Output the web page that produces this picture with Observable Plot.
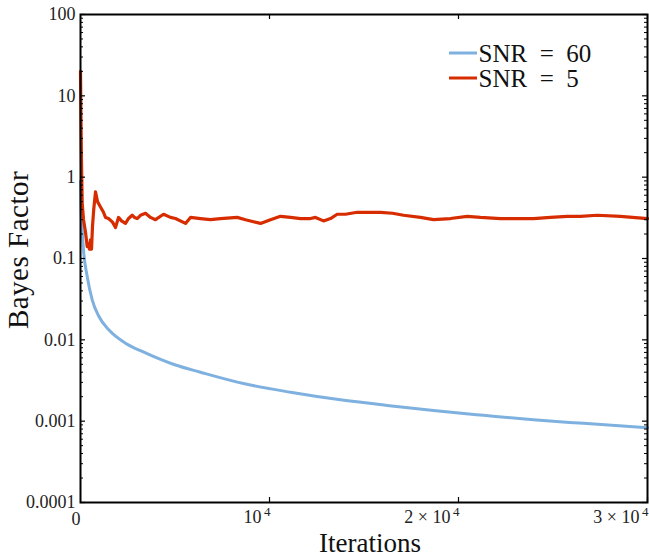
<!DOCTYPE html>
<html><head><meta charset="utf-8">
<script src="https://cdn.jsdelivr.net/npm/d3@7"></script>
<script src="https://cdn.jsdelivr.net/npm/@observablehq/plot@0.6"></script>
<style>
body{margin:0;background:#fff;}
#chart{width:649px;height:560px;}
#chart svg, #chart svg text{font-family:"Liberation Serif", "DejaVu Serif", serif;}
</style></head><body><div id="chart"></div>
<script>
// SNR = 5 (red)
const redIter = [0, 26, 53, 90, 160, 265, 355, 423, 476, 529, 582, 635, 700, 794, 900, 1058, 1217, 1323, 1481, 1693, 1852, 2011, 2169, 2381, 2540, 2735, 2857, 3000, 3175, 3439, 3704, 3968, 4392, 4762, 5026, 5556, 5820, 6349, 6878, 7407, 8291, 8730, 9524, 10053, 10582, 11111, 11640, 12169, 12434, 12857, 13228, 13582, 14021, 14640, 15344, 15873, 16508, 17090, 17989, 18677, 19577, 20460, 21164, 22222, 23280, 23968, 24868, 25751, 26455, 27339, 28571, 30000];
const redVal  = [20, 5, 1.5, 0.48, 0.3, 0.21, 0.14, 0.15, 0.13, 0.17, 0.13, 0.25, 0.4, 0.66, 0.5, 0.43, 0.37, 0.32, 0.31, 0.28, 0.24, 0.32, 0.29, 0.27, 0.31, 0.34, 0.32, 0.31, 0.34, 0.36, 0.32, 0.30, 0.35, 0.32, 0.31, 0.27, 0.32, 0.31, 0.30, 0.31, 0.32, 0.30, 0.27, 0.30, 0.33, 0.32, 0.31, 0.31, 0.32, 0.29, 0.31, 0.35, 0.35, 0.37, 0.37, 0.37, 0.36, 0.34, 0.32, 0.30, 0.31, 0.33, 0.32, 0.31, 0.31, 0.31, 0.32, 0.33, 0.33, 0.34, 0.33, 0.31];
// SNR = 60 (blue)
const blueIter = [0, 26, 90, 175, 355, 619, 968, 1497, 2381, 3265, 5026, 6349, 8624, 11111, 13757, 16228, 18677, 21323, 23968, 26614, 30000];
const blueVal  = [0.9, 0.45, 0.22, 0.116, 0.060, 0.031, 0.0195, 0.0133, 0.0091, 0.0072, 0.0049, 0.0040, 0.0029, 0.00227, 0.00183, 0.00156, 0.00135, 0.00118, 0.00104, 0.00094, 0.00083];

const yMajor = [1e-4, 1e-3, 1e-2, 1e-1, 1, 10, 100];
const yLabels = ["0.0001", "0.001", "0.01", "0.1", "1", "10", "100"];
const yMinor = yMajor.slice(0, -1).flatMap(d => [2,3,4,5,6,7,8,9].map(m => m * d));
const xTicks = [0, 10000, 20000, 30000];
const xBase = ["0", "10", "2 \u00d7 10", "3 \u00d7 10"];
const xSup = ["", "4", "4", "4"];

const seriesNames = ["SNR = 60", "SNR = 5"];
const colors = ["#7eb1df", "#d62c00"];
const xTitle = "Iterations";
const yTitle = "Bayes Factor";

const W = 649, H = 560, mL = 80, mR = 2, mT = 14, mB = 58;
const fw = W - mL - mR, fh = H - mT - mB;
const FF = "Liberation Serif";

const blue = blueIter.map((x, i) => ({x, y: blueVal[i]}));
const red = redIter.map((x, i) => ({x, y: redVal[i]}));

const chart = Plot.plot({
  width: W, height: H,
  marginLeft: mL, marginRight: mR, marginTop: mT, marginBottom: mB,
  style: {fontFamily: FF, color: "black", background: "white"},
  x: {domain: [0, 30000], axis: null},
  y: {type: "log", domain: [1e-4, 100], axis: null},
  marks: [
    Plot.line(blue, {x: "x", y: "y", stroke: colors[0], strokeWidth: 3, curve: "monotone-x"}),
    Plot.line(red, {x: "x", y: "y", stroke: colors[1], strokeWidth: 3.2, strokeLinejoin: "round"}),
    // y ticks (inward, both sides)
    Plot.tickY(yMajor, {y: d => d, stroke: "black", strokeWidth: 1.2, insetRight: fw - 5}),
    Plot.tickY(yMajor, {y: d => d, stroke: "black", strokeWidth: 1.2, insetLeft: fw - 5}),
    Plot.tickY(yMinor, {y: d => d, stroke: "black", strokeWidth: 1, insetRight: fw - 3}),
    Plot.tickY(yMinor, {y: d => d, stroke: "black", strokeWidth: 1, insetLeft: fw - 3}),
    // x ticks (inward, top and bottom)
    Plot.tickX(xTicks.slice(1), {x: d => d, stroke: "black", strokeWidth: 1.2, insetTop: fh - 5}),
    Plot.tickX(xTicks.slice(1), {x: d => d, stroke: "black", strokeWidth: 1.2, insetBottom: fh - 5}),
    Plot.frame({stroke: "black", strokeWidth: 2}),
    // y tick labels
    Plot.text(yMajor, {y: d => d, text: (d, i) => yLabels[i], frameAnchor: "left", textAnchor: "end", dx: -5, fontSize: 18, fontFamily: FF, fill: "#222"}),
    // x tick labels
    Plot.text(xTicks.slice(0, 1), {x: d => d, text: (d, i) => xBase[i], frameAnchor: "bottom", textAnchor: "end", dx: 0, dy: 22, fontSize: 18, fontFamily: FF, fill: "#222"}),
    Plot.text(xTicks.slice(1), {x: d => d, text: (d, i) => xBase[i + 1], frameAnchor: "bottom", textAnchor: "end", dx: -8, dy: 20, fontSize: 18, fontFamily: FF, fill: "#222"}),
    Plot.text(xTicks.slice(1), {x: d => d, text: (d, i) => xSup[i + 1], frameAnchor: "bottom", textAnchor: "end", dx: 1, dy: 13, fontSize: 13, fontFamily: FF, fill: "#222"}),
    // x axis title
    Plot.text([xTitle], {text: d => d, frameAnchor: "bottom", dx: 6, dy: 41, lineAnchor: "middle", fontSize: 27, fontFamily: FF, fill: "#111", letterSpacing: "2px"}),
    // legend labels
    Plot.text(seriesNames.slice(0, 1), {text: d => d.replace(/ /g, "\u2002"), frameAnchor: "top-left", lineAnchor: "middle", textAnchor: "start", dx: 398, dy: 39, fontSize: 25, fontFamily: FF, fill: "#111"}),
    Plot.text(seriesNames.slice(1), {text: d => d.replace(/ /g, "\u2002"), frameAnchor: "top-left", lineAnchor: "middle", textAnchor: "start", dx: 398, dy: 64, fontSize: 25, fontFamily: FF, fill: "#111"})
  ]
});

const svg = d3.select(chart);
// y axis title
svg.append("text")
  .attr("transform", "translate(21,250) rotate(-90)")
  .attr("text-anchor", "middle")
  .attr("dominant-baseline", "middle")
  .attr("font-family", FF)
  .attr("font-size", 29)
  .attr("letter-spacing", "0.5px")
  .attr("fill", "#111")
  .text(yTitle);
// legend line samples
seriesNames.forEach((n, i) => {
  svg.append("line")
    .attr("x1", 449).attr("x2", 477)
    .attr("y1", 53 + i * 25).attr("y2", 53 + i * 25)
    .attr("stroke", colors[i]).attr("stroke-width", 3);
});

document.getElementById("chart").appendChild(chart);
</script>
</body></html>
